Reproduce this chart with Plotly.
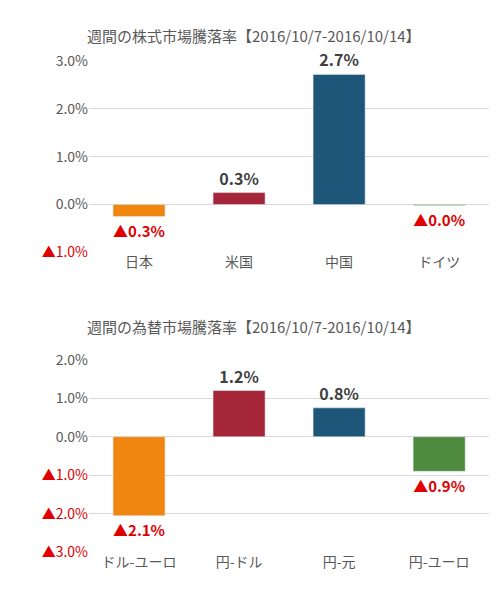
import plotly.graph_objs as go

# top chart: weekly stock market change
stock_names = ['日本', '米国', '中国', 'ドイツ']
stock_values = [-0.25, 0.25, 2.72, -0.02]
stock_labels = ['▲0.3%', '0.3%', '2.7%', '▲0.0%']
stock_ticks = [-1, 0, 1, 2, 3]

# bottom chart: weekly FX change
fx_names = ['ドル-ユーロ', '円-ドル', '円-元', '円-ユーロ']
fx_values = [-2.05, 1.2, 0.75, -0.9]
fx_labels = ['▲2.1%', '1.2%', '0.8%', '▲0.9%']
fx_ticks = [-3, -2, -1, 0, 1, 2]

COLORS = ['#F0860F', '#A52639', '#1E5679', '#4E8B3E']
RED = '#E00000'
FONT = 'Noto Sans CJK JP'


def tick_text(v):
    if v < 0:
        return f"<span style='color:{RED}'>▲{abs(v):.1f}%</span>"
    return f"{v:.1f}%"


def bold_labels(labels):
    return [f"<b>{t}</b>" for t in labels]


def label_colors(vals):
    return [RED if v < 0 else '#404040' for v in vals]


fig = go.Figure()
fig.add_trace(go.Bar(
    x=stock_names, y=stock_values, marker_color=COLORS, width=0.52,
    text=bold_labels(stock_labels), textposition='outside', cliponaxis=False,
    textfont=dict(size=16, color=label_colors(stock_values), family=FONT),
    xaxis='x', yaxis='y'))
fig.add_trace(go.Bar(
    x=fx_names, y=fx_values, marker_color=COLORS, width=0.52,
    text=bold_labels(fx_labels), textposition='outside', cliponaxis=False,
    textfont=dict(size=16, color=label_colors(fx_values), family=FONT),
    xaxis='x2', yaxis='y2'))

axis_common = dict(showline=False, zeroline=False, ticks='',
                   tickfont=dict(size=14, color='#595959'))
fig.update_layout(
    width=501, height=600, showlegend=False,
    paper_bgcolor='white', plot_bgcolor='white',
    margin=dict(l=0, r=10, t=0, b=0),
    font=dict(family=FONT, color='#595959'),
    xaxis=dict(domain=[0.165, 0.98], anchor='y', **axis_common),
    yaxis=dict(domain=[0.5975, 0.9276], anchor='x', range=[-1, 3],
               tickvals=stock_ticks, ticktext=[tick_text(v) for v in stock_ticks],
               showgrid=True, gridcolor='#D9D9D9', **axis_common),
    xaxis2=dict(domain=[0.165, 0.98], anchor='y2', **axis_common),
    yaxis2=dict(domain=[0.0807, 0.4125], anchor='x2', range=[-3, 2],
                tickvals=fx_ticks, ticktext=[tick_text(v) for v in fx_ticks],
                showgrid=True, gridcolor='#D9D9D9', **axis_common),
    annotations=[
        dict(text='週間の株式市場騰落率【2016/10/7-2016/10/14】', x=0.5, y=0.993,
             xref='paper', yref='paper', showarrow=False, font=dict(size=15, color='#595959')),
        dict(text='週間の為替市場騰落率【2016/10/7-2016/10/14】', x=0.5, y=0.47,
             xref='paper', yref='paper', showarrow=False, font=dict(size=15, color='#595959')),
    ],
)

fig.write_html("out.html")
